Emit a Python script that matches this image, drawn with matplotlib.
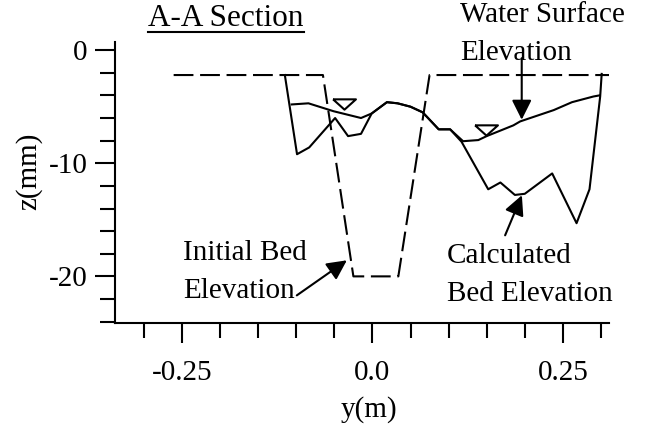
import numpy as np
import matplotlib
matplotlib.use("Agg")
import matplotlib.pyplot as plt
from matplotlib.lines import Line2D
from matplotlib.ticker import MultipleLocator, FixedLocator

plt.rcParams.update({"font.family": "serif",
                     "font.serif": ["Liberation Serif", "DejaVu Serif"],
                     "axes.unicode_minus": False})

# cross-section A-A, y in m, z in mm
init_y = [-0.261, -0.065, -0.025, 0.034, 0.075, 0.312]
init_z = [-2.2, -2.2, -20.0, -20.0, -2.2, -2.2]

bed_y = [-0.115, -0.099, -0.083, -0.049, -0.032, -0.015, -0.001, 0.019, 0.033, 0.050,
         0.066, 0.087, 0.102, 0.117, 0.152, 0.168, 0.187, 0.200, 0.236, 0.268, 0.285,
         0.299, 0.301]
bed_z = [-2.2, -9.2, -8.6, -6.0, -7.6, -7.4, -5.6, -4.6, -4.7, -5.0,
         -5.5, -7.0, -7.0, -8.1, -12.3, -11.7, -12.8, -12.7, -10.9, -15.3, -12.3,
         -4.1, -2.1]

ws_y = [-0.106, -0.084, -0.051, -0.015, -0.001, 0.019, 0.033, 0.050, 0.066, 0.087,
        0.102, 0.119, 0.139, 0.150, 0.185, 0.194, 0.238, 0.262, 0.290, 0.298]
ws_z = [-4.8, -4.7, -5.4, -6.0, -5.6, -4.6, -4.7, -5.0, -5.5, -7.0,
        -7.0, -8.05, -7.95, -7.6, -6.65, -6.3, -5.3, -4.6, -4.1, -4.0]

# water level symbols
mark_y = [-0.037, 0.1496]
mark_z = [-4.8, -7.05]

x_major = [-0.25, 0.0, 0.25]
x_major_labels = ["-0.25", "0.0", "0.25"]
y_major = [0, -10, -20]
y_major_labels = ["0", "-10", "-20"]

FS = 21
LW = 1.5

fig = plt.figure(figsize=(6.59, 4.30), dpi=100)
ax = fig.add_axes([0.1745, 0.2481, 0.7501, 0.655])

ax.plot(init_y, init_z, color="black", lw=LW, ls=(0, (9.5, 3.2)))
ax.plot(bed_y, bed_z, color="black", lw=LW)
ax.plot(ws_y, ws_z, color="black", lw=LW)
tri = [(-1, 0.45), (1, 0.45), (0, -0.45), (-1, 0.45)]
ax.plot(mark_y, mark_z, ls="none", marker=tri, ms=16.5, mfc="white", mec="black", mew=LW)

ax.set_xlim(-0.338, 0.311)
ax.set_ylim(-24.15, 0.75)
for s in ("top", "right"):
    ax.spines[s].set_visible(False)
for s in ("left", "bottom"):
    ax.spines[s].set_linewidth(LW)

ax.xaxis.set_major_locator(FixedLocator(x_major))
ax.set_xticklabels(x_major_labels)
ax.xaxis.set_minor_locator(FixedLocator(np.arange(-0.30, 0.31, 0.05)))
ax.yaxis.set_major_locator(FixedLocator(y_major))
ax.set_yticklabels(y_major_labels)
ax.yaxis.set_minor_locator(MultipleLocator(2))
ax.tick_params(which="major", direction="out", length=14.4, width=LW, labelsize=FS)
ax.tick_params(which="minor", direction="out", length=10.8, width=LW)
ax.tick_params(axis="x", which="major", pad=12)
ax.tick_params(axis="y", which="major", pad=5.5)

ax.set_xlabel("y(m)", fontsize=FS)
ax.xaxis.set_label_coords(0.514, -0.258)
ax.set_ylabel("z(mm)", fontsize=FS, va="center")
ax.yaxis.set_label_coords(-0.174, 0.541)

arrow = dict(arrowstyle="-|>,head_length=0.8,head_width=0.4", color="black", lw=LW,
             shrinkA=0, shrinkB=0, mutation_scale=15)
ax.annotate("", xy=(0.196, -6.15), xytext=(0.196, -0.71), arrowprops=arrow, annotation_clip=False)
ax.annotate("", xy=(-0.0336, -18.58), xytext=(-0.0993, -21.68), arrowprops=arrow)
ax.annotate("", xy=(0.1962, -12.83), xytext=(0.1742, -16.37), arrowprops=arrow)

txt = dict(fontsize=FS, ha="left", va="top", linespacing=1.6)
ax.text(0.1152, 4.27, "Water Surface\nElevation", clip_on=False, **txt)
ax.text(-0.2486, -16.81, "Initial Bed\nElevation", **txt)
ax.text(0.0977, -17.08, "Calculated\nBed Elevation", **txt)

title = fig.text(148 / 659, 1 - 26 / 430, "A-A Section", fontsize=22.5, ha="left", va="baseline")
fig.canvas.draw()
bb = title.get_window_extent()
W = fig.bbox.width
fig.add_artist(Line2D([bb.x0 / W, bb.x1 / W], [1 - 31.7 / 430] * 2,
                      transform=fig.transFigure, color="black", lw=LW))

fig.savefig("out.png", dpi=100, facecolor="white")
